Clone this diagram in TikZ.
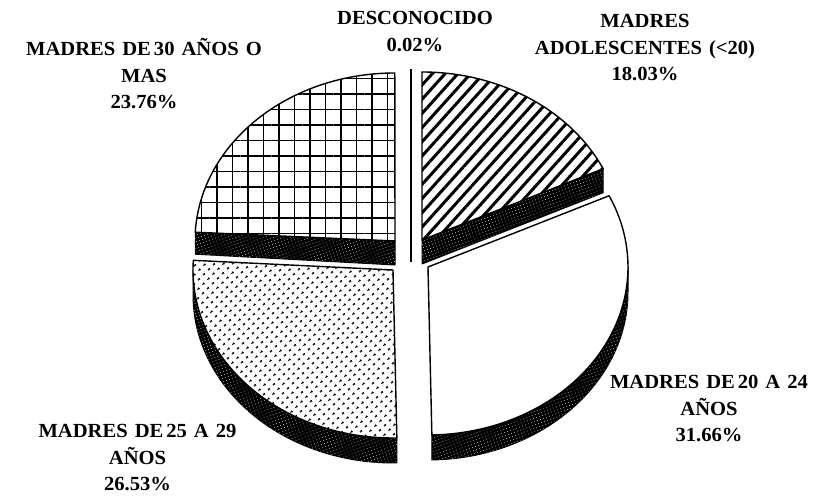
\documentclass[tikz,border=0pt]{standalone}
\usepackage{fontspec}
\setmainfont{Liberation Serif}[FakeStretch=1.03]
\usetikzlibrary{patterns.meta,calc}
\newcommand\mylblfont{\fontsize{20}{26.5}\selectfont\bfseries\spaceskip=7pt plus 1pt\relax}
\newcommand\narrowsp{\spaceskip=3pt\relax}
\begin{document}
\begin{tikzpicture}[x=1pt,y=1pt,
  face/.style={draw=black, line width=1.4pt, line join=round},
  side/.style={fill=black, draw=black, line width=1pt, line join=round,
    postaction={pattern={Dots[distance=3.2pt, radius=0.45pt, angle=20]}, pattern color=white!85!black}},
  lbl/.style={font=\mylblfont, align=center, inner sep=0pt},
  ell/.style={x radius=200, y radius=168}]
\useasboundingbox (0,0) rectangle (815,497);

% vertices of the exploded slices
\coordinate (v1) at (422,257);
\coordinate (v2) at (428,230);
\coordinate (v3) at (393,227);
\coordinate (v4) at (395,256);

% ---- side faces (dark) ----
\path[side] (v1) -- ($(v1)+(25.09:200 and 168)$) -- ++(0,-24) -- ($(v1)+(0,-24)$) -- cycle;
\path[side] ($(v2)+(0:200 and 168)$) arc[start angle=0, end angle=-88.89, ell] -- ++(0,-25)
   arc[start angle=-88.89, end angle=0, ell] -- cycle;
\path[side] ($(v3)+(180:200 and 168)$) arc[start angle=180, end angle=271.11, ell] -- ++(0,-25)
   arc[start angle=271.11, end angle=180, ell] -- cycle;
\path[side] (v4) -- ($(v4)+(177:200 and 168)$) -- ++(0,-22) -- ($(v4)+(0,-24)$) -- cycle;

% ---- top faces ----
\path[face, preaction={fill=white}, pattern={Lines[angle=48, distance=9.5pt, line width=3pt]}]
  (v1) -- ($(v1)+(0,168)$) arc[start angle=90, end angle=25.09, ell] -- cycle;
\path[face, fill=white]
  (v2) -- ($(v2)+(25.09:200 and 168)$) arc[start angle=25.09, end angle=-88.89, ell] -- cycle;
\path[face, preaction={fill=white}, pattern={Dots[distance=6.5pt, radius=1.4pt, angle=45]}]
  (v3) -- ($(v3)+(-88.89:200 and 168)$) arc[start angle=-88.89, end angle=-183.3, ell] -- cycle;
\path[face, preaction={fill=white}, pattern={Hatch[distance=15.5pt, line width=1.6pt]}]
  (v4) -- ($(v4)+(177:200 and 168)$) arc[start angle=177, end angle=90.06, ell] -- cycle;

% ---- 0.02% slice ----
\coordinate (s5a) at (411,428);
\coordinate (s5b) at (411,235);
\draw[line width=1.6pt] (s5a) -- (s5b);

% ---- labels ----
\node[lbl] (lunk) at (415,465.5) {DESCONOCIDO\\0.02\%};
\node[lbl] (ladol) at (645,449) {MADRES\\ADOLESCENTES (<20)\\18.03\%};
\node[lbl] (l30) at (144,423) {MADRES {\narrowsp DE 30} AÑOS O\\MAS\\23.76\%};
\node[lbl] (l20) at (709,88.5) {MADRES {\narrowsp DE 20} A 24\\AÑOS\\31.66\%};
\node[lbl] (l25) at (137.5,39) {MADRES {\narrowsp DE 25} A 29\\AÑOS\\26.53\%};
\end{tikzpicture}
\end{document}
